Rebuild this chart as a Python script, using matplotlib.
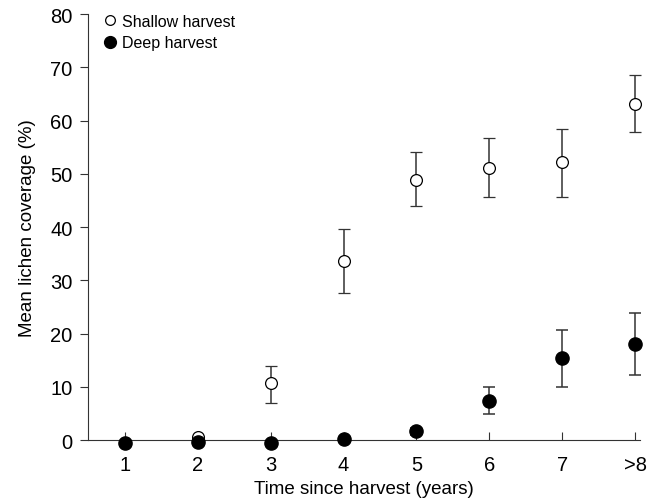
import matplotlib
matplotlib.use("Agg")
import matplotlib.pyplot as plt
import numpy as np

plt.rcParams['font.family'] = ['Liberation Sans', 'DejaVu Sans']

labels = ['1', '2', '3', '4', '5', '6', '7', '>8']
xpos = [1, 2, 3, 4, 5, 6, 7, 8]

shallow = [-0.5, 0.5, 10.7, 33.6, 48.8, 51.0, 52.2, 63.2]
shallow_lo = [-0.5, 0.5, 6.9, 27.6, 44.0, 45.6, 45.6, 57.8]
shallow_hi = [-0.5, 0.5, 13.9, 39.6, 54.0, 56.7, 58.5, 68.5]

deep = [-0.5, -0.3, -0.5, 0.2, 1.6, 7.3, 15.4, 18.0]
deep_lo = [-0.5, -0.3, -0.5, 0.2, 1.0, 4.9, 9.9, 12.2]
deep_hi = [-0.5, -0.3, -0.5, 0.2, 2.2, 9.9, 20.6, 23.8]

fig = plt.figure(figsize=(6.5, 5.02), dpi=100)
ax = fig.add_axes([0.135, 0.1215, 0.85, 0.8485])

s = np.array(shallow); d = np.array(deep)
s_err = [s - np.array(shallow_lo), np.array(shallow_hi) - s]
d_err = [d - np.array(deep_lo), np.array(deep_hi) - d]

ecol = '#333333'
ax.errorbar(xpos, shallow, yerr=s_err, fmt='o', mfc='white', mec='black', mew=0.9,
            ms=8.5, ecolor=ecol, elinewidth=1.1, capsize=4, capthick=1.1, clip_on=False,
            zorder=3, label='Shallow harvest')
ax.errorbar(xpos, deep, yerr=d_err, fmt='o', mfc='black', mec='black',
            ms=9.5, ecolor=ecol, elinewidth=1.1, capsize=4, capthick=1.1, clip_on=False,
            zorder=4, label='Deep harvest')

ax.set_xlim(0.49, 8.07)
ax.set_ylim(0, 80)
ax.set_xticks(xpos)
ax.set_xticklabels(labels)
ax.set_yticks(range(0, 81, 10))
for sp in ['top', 'right']:
    ax.spines[sp].set_visible(False)
ax.spines['left'].set_color('#333333')
ax.spines['bottom'].set_color('#333333')
ax.tick_params(axis='x', direction='in', length=6, labelsize=14.5, pad=11, color='#333333')
ax.tick_params(axis='y', direction='out', length=6, labelsize=14.5, pad=5, color='#333333')

ax.set_xlabel('Time since harvest (years)', fontsize=13.5, labelpad=4)
ax.set_ylabel('Mean lichen coverage (%)', fontsize=13.5, labelpad=10)

h, l = ax.get_legend_handles_labels()
h = [hh[0] for hh in h]
leg = ax.legend(h, l, loc='upper left', bbox_to_anchor=(0.012, 1.015), frameon=False,
                fontsize=11.5, handletextpad=0.1, handlelength=1.2, labelspacing=0.4,
                borderaxespad=0)
leg.legend_handles[0].set_markersize(7)
leg.legend_handles[1].set_markersize(8.5)

fig.savefig('out.png', dpi=100)
